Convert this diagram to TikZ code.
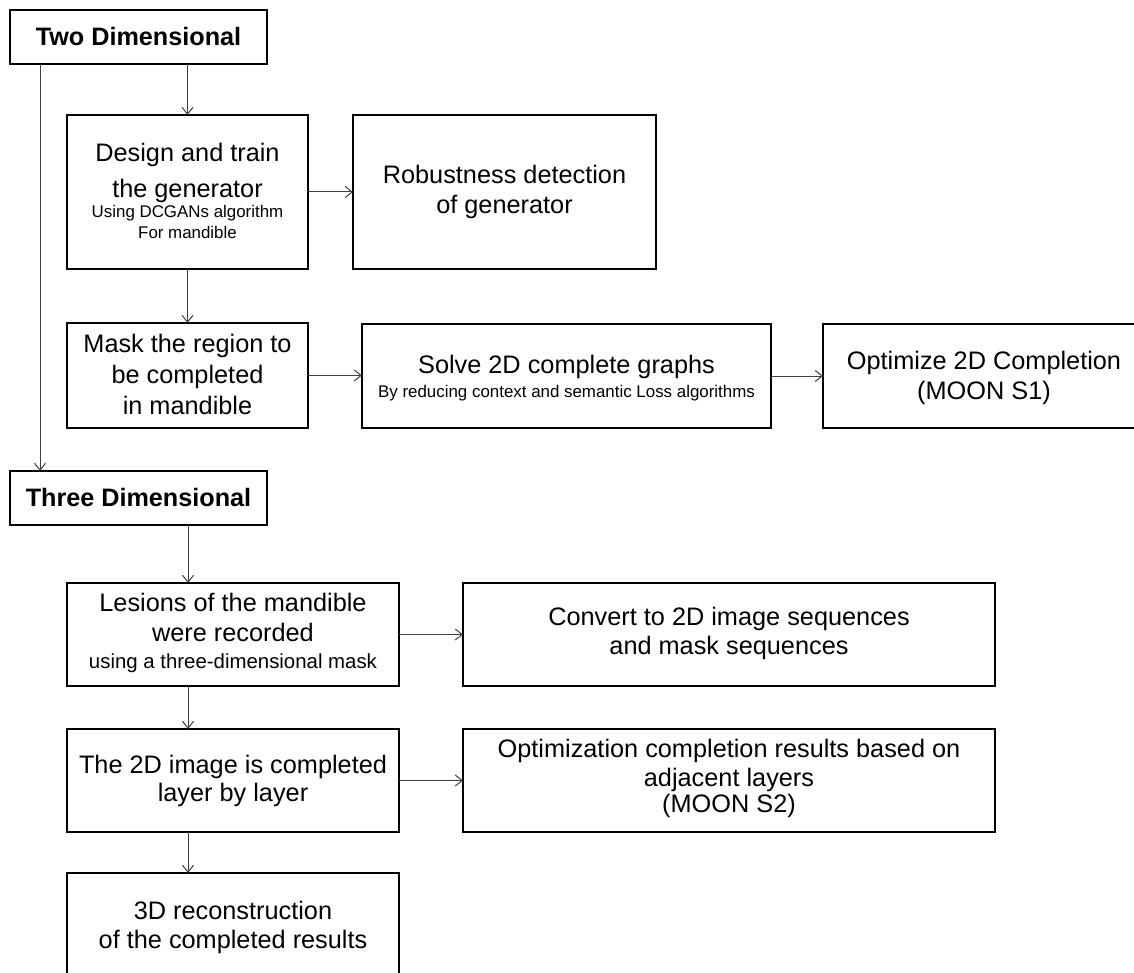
\documentclass[tikz,border=0pt]{standalone}
\usepackage{fontspec}
\setmainfont{Liberation Sans}
\usetikzlibrary{arrows.meta}
\newcommand\fBig{\fontsize{25.3}{30}\selectfont}
\newcommand\fSmall{\fontsize{16.9}{20}\selectfont}
\newcommand\fLow{\fontsize{20.4}{24}\selectfont}
\newcommand\fHead{\fontsize{25.2}{30}\selectfont\bfseries}
\tikzset{
  box/.style={draw=black, line width=1.1pt, inner sep=0pt, outer sep=0pt},
  txt/.style={anchor=base, inner sep=0pt, outer sep=0pt, font=\fBig, text=black},
  arr/.style={draw=black!75, line width=1pt, -{Straight Barb[length=7pt,width=11pt]}}
}
\begin{document}
\begin{tikzpicture}[x=1pt,y=-1pt]
\useasboundingbox (0,0) rectangle (1134,973);
\clip (0,0) rectangle (1134,973);
\fill[white] (0,0) rectangle (1134,973);

% boxes
\node[box, minimum width=257pt, minimum height=54pt] (twod) at (138.5,37) {};
\node[box, minimum width=241pt, minimum height=154pt] (design) at (187.5,192) {};
\node[box, minimum width=303pt, minimum height=154pt] (robust) at (504.5,192) {};
\node[box, minimum width=241pt, minimum height=105pt] (mask) at (187.5,375.5) {};
\node[box, minimum width=409pt, minimum height=104pt] (solve) at (566.5,376) {};
\node[box, minimum width=322pt, minimum height=104pt] (opt2d) at (984,376) {};
\node[box, minimum width=257pt, minimum height=54pt] (threed) at (138.5,498) {};
\node[box, minimum width=332pt, minimum height=103pt] (lesions) at (233,634.5) {};
\node[box, minimum width=532pt, minimum height=103pt] (convert) at (729,634.5) {};
\node[box, minimum width=332pt, minimum height=103pt] (layer) at (233,780.5) {};
\node[box, minimum width=532pt, minimum height=103pt] (optim) at (729,780.5) {};
\node[box, minimum width=332pt, minimum height=104pt] (recon) at (233,925) {};

% texts
\node[txt, font=\fHead] (twod-t) at (138.5,45.5) {Two Dimensional};
\node[txt] (design-1) at (187.5,161.7) {Design and train};
\node[txt] (design-2) at (187.5,197.3) {the generator};
\node[txt, font=\fSmall] (design-3) at (187.5,217.5) {Using DCGANs algorithm};
\node[txt, font=\fSmall] (design-4) at (187.5,239) {For mandible};
\node[txt] (robust-1) at (504.5,184) {Robustness detection};
\node[txt] (robust-2) at (504.5,214) {of generator};
\node[txt] (mask-1) at (187.5,352.5) {Mask the region to};
\node[txt] (mask-2) at (187.5,383.5) {be completed};
\node[txt] (mask-3) at (187.5,414.5) {in mandible};
\node[txt] (solve-1) at (566.5,373) {Solve 2D complete graphs};
\node[txt, font=\fSmall] (solve-2) at (566.5,397) {By reducing context and semantic Loss algorithms};
\node[txt] (opt2d-1) at (984,369) {Optimize 2D Completion};
\node[txt] (opt2d-2) at (984,399) {(MOON S1)};
\node[txt, font=\fHead] (threed-t) at (138.5,506) {Three Dimensional};
\node[txt] (lesions-1) at (233,611.7) {Lesions of the mandible};
\node[txt] (lesions-2) at (233,641.7) {were recorded};
\node[txt, font=\fLow] (lesions-3) at (233,668) {using a three-dimensional mask};
\node[txt] (convert-1) at (729,625) {Convert to 2D image sequences};
\node[txt] (convert-2) at (729,654) {and mask sequences};
\node[txt] (layer-1) at (233,773) {The 2D image is completed};
\node[txt] (layer-2) at (233,801.7) {layer by layer};
\node[txt] (optim-1) at (729,757) {Optimization completion results based on};
\node[txt] (optim-2) at (729,786) {adjacent layers};
\node[txt] (optim-3) at (729,812) {(MOON S2)};
\node[txt] (recon-1) at (233,919) {3D reconstruction};
\node[txt] (recon-2) at (233,948) {of the completed results};

% connectors
\draw[arr] (design.north |- twod.south) -- (design.north);
\draw[arr] ([xshift=-98.5pt]twod.south) -- ([xshift=-98.5pt]threed.north);
\draw[arr] (design.east) -- (robust.west);
\draw[arr] (design.south) -- (mask.north);
\draw[arr] (mask.east) -- (mask.east -| solve.west);
\draw[arr] (solve.east) -- (opt2d.west);
\draw[arr] ([xshift=49.5pt]threed.south) -- ([xshift=49.5pt]threed.south |- lesions.north);
\draw[arr] ([xshift=-45pt]lesions.south) -- ([xshift=-45pt]layer.north);
\draw[arr] ([xshift=-45pt]layer.south) -- ([xshift=-45pt]recon.north);
\draw[arr] (lesions.east) -- (convert.west);
\draw[arr] (layer.east) -- (optim.west);
\end{tikzpicture}
\end{document}
